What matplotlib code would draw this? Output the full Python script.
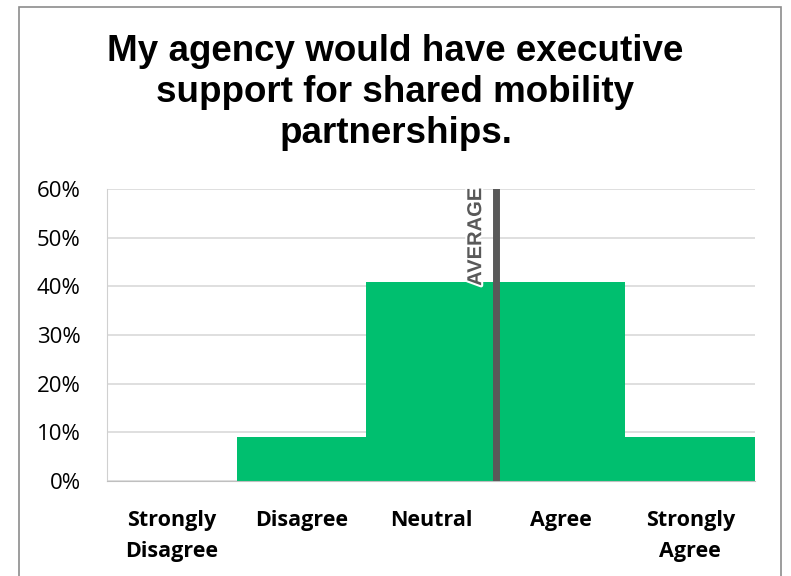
import numpy as np
import matplotlib.pyplot as plt
import matplotlib.patheffects as pe
from matplotlib.patches import Rectangle
from matplotlib.ticker import PercentFormatter

# ============================
# DATA
# ============================
categories = ["Strongly\nDisagree", "Disagree", "Neutral", "Agree", "Strongly\nAgree"]
scores = [1, 2, 3, 4, 5]
shares = [0.0, 2 / 22, 9 / 22, 9 / 22, 2 / 22]   # 22 respondents
title = "My agency would have executive\nsupport for shared mobility\npartnerships."

# weighted mean score -> position on the 0-based category axis
avg_score = np.dot(scores, shares) / sum(shares)
avg_x = avg_score - 1

# ============================
# FIGURE
# ============================
fig = plt.figure(figsize=(7.91, 5.76), dpi=100)
ax = fig.add_axes([107 / 791, 1 - 481 / 576, (755 - 107) / 791, (481 - 189) / 576])

x = np.arange(len(categories))
ax.bar(x, shares, width=1.0, color="#00BF6F", zorder=2)

ax.set_xlim(-0.5, len(categories) - 0.5)
ax.set_ylim(0, 0.6)
ax.set_yticks(np.arange(0, 0.61, 0.1))
ax.yaxis.set_major_formatter(PercentFormatter(1.0, decimals=0))
ax.grid(axis="y", color="#D9D9D9", lw=1.2, zorder=0)
ax.set_axisbelow(True)

ax.set_xticks(x)
ax.set_xticklabels(categories, fontfamily="Open Sans", fontweight="bold",
                   fontsize=15.5, linespacing=1.6)
ax.tick_params(axis="x", length=0, pad=21)
ax.tick_params(axis="y", length=0, pad=19, labelsize=16)
for lab in ax.get_yticklabels():
    lab.set_fontfamily("Open Sans")

for side in ["top", "right"]:
    ax.spines[side].set_visible(False)
ax.spines["left"].set_color("#D0D0D0")
ax.spines["bottom"].set_color("#BFBFBF")
ax.spines["bottom"].set_zorder(3)

# average marker
ax.axvline(avg_x, color="#595959", lw=5, zorder=4)
ax.annotate("AVERAGE", xy=(avg_x, 0.6), xycoords="data",
            xytext=(-14.5, 1), textcoords="offset points",
            rotation=90, ha="center", va="top", fontsize=14.5,
            fontweight="bold", color="#595959", fontfamily="Liberation Sans",
            zorder=5, path_effects=[pe.withStroke(linewidth=3, foreground="white")])

# title
fig.text(0.5, 1 - 34 / 576, title, ha="center", va="top", fontsize=26.5,
         fontweight="bold", fontfamily="Liberation Sans", linespacing=1.22)

# chart frame
fig.patches.append(Rectangle((19 / 791, -0.05), (781 - 19) / 791, 1.05 - 7 / 576,
                             transform=fig.transFigure, fill=False,
                             edgecolor="#8C8C8C", lw=1.2))

fig.savefig("out.png", dpi=100)
